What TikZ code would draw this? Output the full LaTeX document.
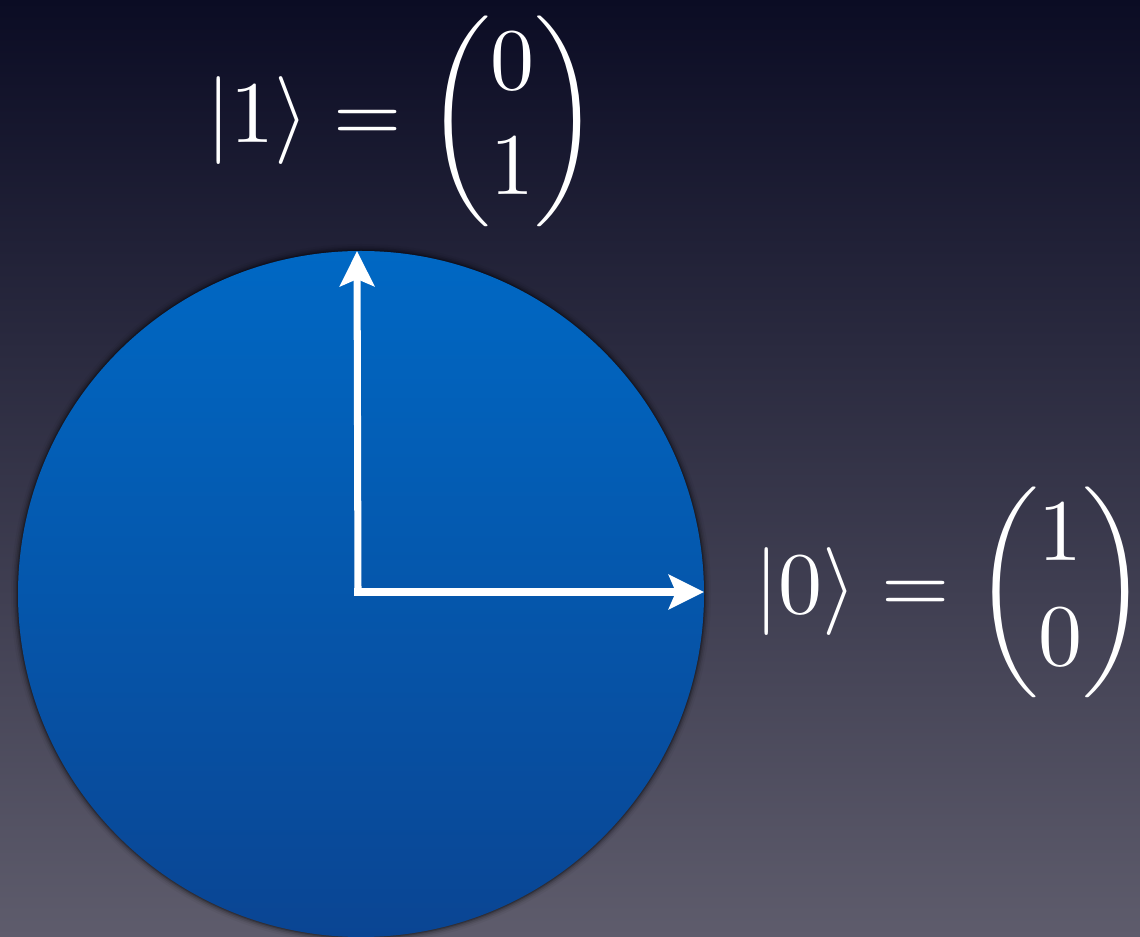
\documentclass[tikz,border=0pt]{standalone}
\usepackage{amsmath}
\usetikzlibrary{arrows.meta}
\definecolor{bgtop}{HTML}{0B0C24}
\definecolor{bgmid}{HTML}{2E2944}
\definecolor{bgbot}{HTML}{5E5C6C}
\definecolor{ctop}{HTML}{0068C4}
\definecolor{cbot}{HTML}{0A4593}
\tikzset{
  vec/.style={draw=white, line width=4pt, line cap=rect,
    -{Stealth[length=20pt, width=19.5pt, inset=4pt]}},
  eqlabel/.style={text=white, scale=5.0, inner sep=0pt},
}
\begin{document}
\begin{tikzpicture}[x=0.02cm,y=0.02cm]
\useasboundingbox (0,0) rectangle (1140,937);
\shade[top color=bgtop, middle color=bgmid, bottom color=bgbot] (0,0) rectangle (1140,937);
% soft shadow round the disc
\foreach \r/\o in {350/0.04,348/0.07,346.5/0.11,345/0.16,344/0.2}
  \fill[black, opacity=\o] (361,343) circle (\r);
\shade[top color=ctop, bottom color=cbot] (361,343) circle (343);
\coordinate (o) at (358,345);
\coordinate (e0) at (704,345);
\coordinate (e1) at (357,686);
\draw[vec] (o) -- (e0);
\draw[vec] (o) -- (e1);
\node[eqlabel] (l1) at (403,816) {$|1\rangle = \begin{pmatrix}0\\1\end{pmatrix}$};
\node[eqlabel] (l0) at (951,345) {$|0\rangle = \begin{pmatrix}1\\0\end{pmatrix}$};
\end{tikzpicture}
\end{document}
